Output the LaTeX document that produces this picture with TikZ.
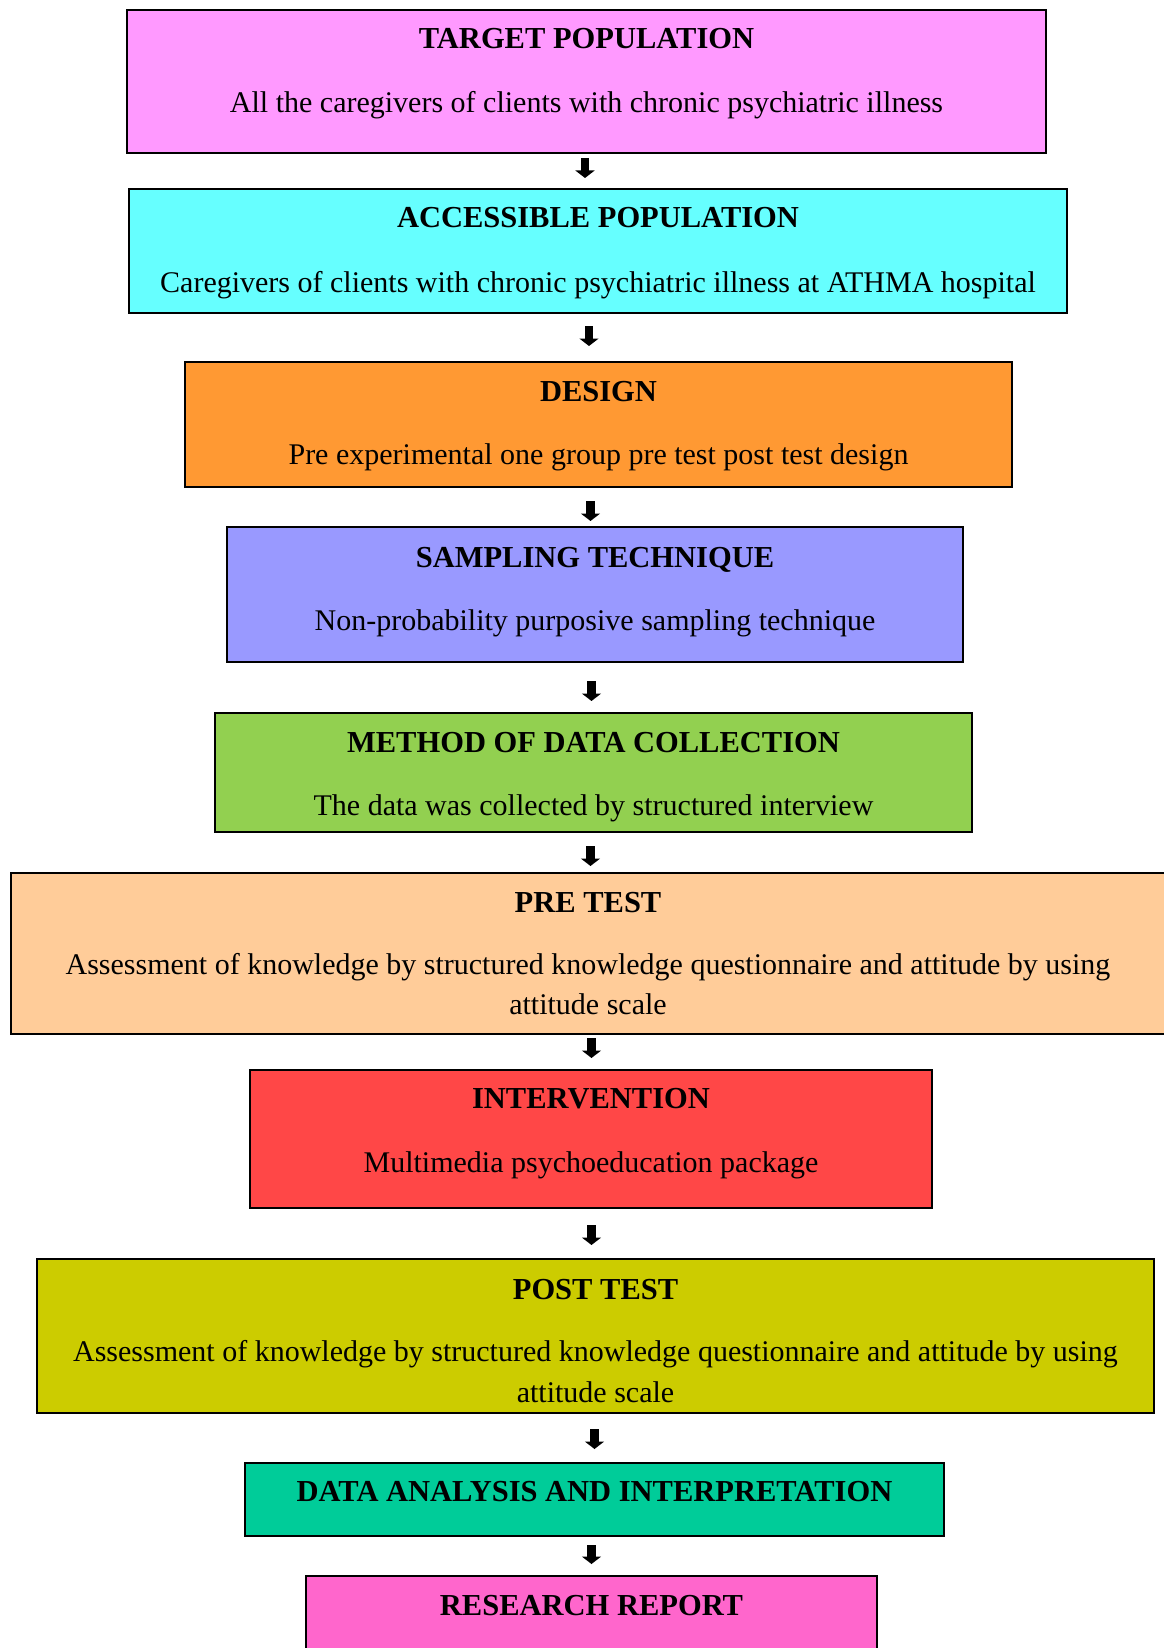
\documentclass[tikz,border=0pt]{standalone}
\usepackage{fontspec}
\setmainfont{Liberation Serif}
\usetikzlibrary{arrows.meta}
\definecolor{c1}{HTML}{FF99FF}
\definecolor{c2}{HTML}{66FFFF}
\definecolor{c3}{HTML}{FF9933}
\definecolor{c4}{HTML}{9999FF}
\definecolor{c5}{HTML}{92D050}
\definecolor{c6}{HTML}{FFCC99}
\definecolor{c7}{HTML}{FF4747}
\definecolor{c8}{HTML}{CCCC00}
\definecolor{c9}{HTML}{00CC99}
\definecolor{c10}{HTML}{FF66CC}
\tikzset{
  boxstyle/.style={draw=black, line width=2pt},
  titletext/.style={anchor=base, inner sep=0pt, font=\bfseries\fontsize{30.5}{40}\selectfont},
  bodytext/.style={anchor=base, inner sep=0pt, font=\fontsize{30}{40}\selectfont},
  blockarrow/.style={line width=8.5pt, -{Triangle[width=19pt,length=7.5pt]}},
}
\begin{document}
\begin{tikzpicture}[x=1pt,y=-1pt]
\useasboundingbox (0,0) rectangle (1163,1648);
% boxes
\filldraw[boxstyle, fill=c1] (127,10.5) rectangle (1046,153);
\filldraw[boxstyle, fill=c2] (129,189) rectangle (1067,313);
\filldraw[boxstyle, fill=c3] (185,362) rectangle (1012,486.5);
\filldraw[boxstyle, fill=c4] (227,527) rectangle (963,662);
\filldraw[boxstyle, fill=c5] (215,713) rectangle (972,832);
\filldraw[boxstyle, fill=c6] (10.5,872.5) rectangle (1175,1034);
\filldraw[boxstyle, fill=c7] (250,1070) rectangle (932,1208);
\filldraw[boxstyle, fill=c8] (37,1258.5) rectangle (1154,1413);
\filldraw[boxstyle, fill=c9] (245,1462.5) rectangle (944,1535.5);
\filldraw[boxstyle, fill=c10] (306,1576) rectangle (877,1670);
% texts
\node[titletext] (t1) at (586.5,49) {TARGET POPULATION};
\node[bodytext] (b1) at (586.5,112.5) {All the caregivers of clients with chronic psychiatric illness};
\node[titletext] (t2) at (598,227) {ACCESSIBLE POPULATION};
\node[bodytext] (b2) at (598,292) {Caregivers of clients with chronic psychiatric illness at ATHMA hospital};
\node[titletext] (t3) at (598.5,401) {DESIGN};
\node[bodytext] (b3) at (598.5,464) {Pre experimental one group pre test post test design};
\node[titletext] (t4) at (595,567) {SAMPLING TECHNIQUE};
\node[bodytext] (b4) at (595,630) {Non-probability purposive sampling technique};
\node[titletext] (t5) at (593.5,752) {METHOD OF DATA COLLECTION};
\node[bodytext] (b5) at (593.5,815) {The data was collected by structured interview};
\node[titletext] (t6) at (588,912) {PRE TEST};
\node[bodytext] (b6) at (588,974) {Assessment of knowledge by structured knowledge questionnaire and attitude by using};
\node[bodytext] (b6b) at (588,1014) {attitude scale};
\node[titletext] (t7) at (591,1108) {INTERVENTION};
\node[bodytext] (b7) at (591,1172) {Multimedia psychoeducation package};
\node[titletext] (t8) at (595.5,1299) {POST TEST};
\node[bodytext] (b8) at (595.5,1361) {Assessment of knowledge by structured knowledge questionnaire and attitude by using};
\node[bodytext] (b8b) at (595.5,1402) {attitude scale};
\node[titletext] (t9) at (594.5,1501) {DATA ANALYSIS AND INTERPRETATION};
\node[titletext] (t10) at (591.5,1615) {RESEARCH REPORT};
% arrows
\coordinate (a1) at (585,158);   \coordinate (z1) at (585,178);
\coordinate (a2) at (589,326);   \coordinate (z2) at (589,346);
\coordinate (a3) at (590.5,501); \coordinate (z3) at (590.5,521);
\coordinate (a4) at (591.5,681); \coordinate (z4) at (591.5,701);
\coordinate (a5) at (590.5,846); \coordinate (z5) at (590.5,866);
\coordinate (a6) at (591.5,1038);\coordinate (z6) at (591.5,1058);
\coordinate (a7) at (591.5,1225);\coordinate (z7) at (591.5,1245);
\coordinate (a8) at (594.5,1429);\coordinate (z8) at (594.5,1449);
\coordinate (a9) at (591.5,1545);\coordinate (z9) at (591.5,1564);
\foreach \i in {1,...,9} {\draw[blockarrow] (a\i) -- (z\i);}
\end{tikzpicture}
\end{document}
